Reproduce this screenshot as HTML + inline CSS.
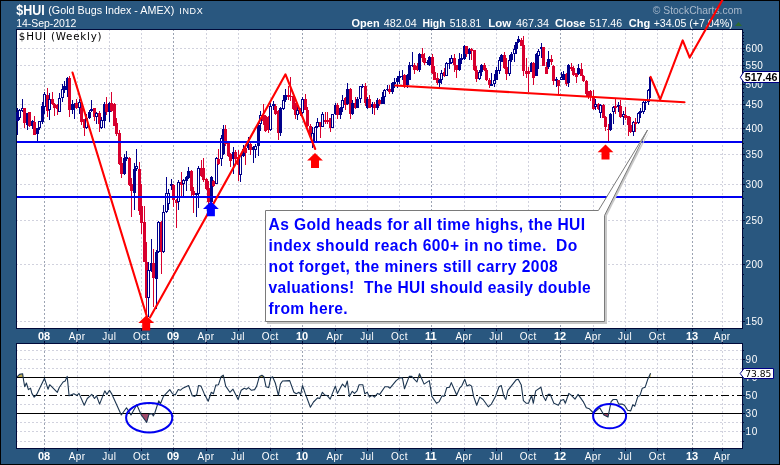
<!DOCTYPE html>
<html><head><meta charset="utf-8"><title>$HUI Gold Bugs Index</title>
<style>html,body{margin:0;padding:0;background:#29577f;}body{width:780px;height:465px;overflow:hidden}svg{display:block}</style>
</head><body>
<svg width="780" height="465" viewBox="0 0 780 465" font-family="'Liberation Sans', Arial, sans-serif">
<rect x="0" y="0" width="780" height="465" fill="#000"/>
<rect x="1" y="1" width="778" height="463" fill="#29577f"/>
<rect x="16" y="29" width="727" height="300" fill="#000a3a"/>
<rect x="17" y="30" width="725" height="298" fill="#fff"/>
<rect x="16" y="343" width="727" height="106" fill="#000a3a"/>
<rect x="17" y="344" width="725" height="104" fill="#fff"/>
<g shape-rendering="crispEdges" fill="none" stroke-width="1" stroke-dasharray="2 2" stroke-dashoffset="1">
<line x1="17" x2="742" y1="48.5" y2="48.5" stroke="#d1d2de"/>
<line x1="17" x2="742" y1="65.5" y2="65.5" stroke="#d1d2de"/>
<line x1="17" x2="742" y1="84.5" y2="84.5" stroke="#d1d2de"/>
<line x1="17" x2="742" y1="104.5" y2="104.5" stroke="#d1d2de"/>
<line x1="17" x2="742" y1="128.5" y2="128.5" stroke="#d1d2de"/>
<line x1="17" x2="742" y1="154.5" y2="154.5" stroke="#d1d2de"/>
<line x1="17" x2="742" y1="184.5" y2="184.5" stroke="#d1d2de"/>
<line x1="17" x2="742" y1="220.5" y2="220.5" stroke="#d1d2de"/>
<line x1="17" x2="742" y1="264.5" y2="264.5" stroke="#d1d2de"/>
<line x1="17" x2="742" y1="321.5" y2="321.5" stroke="#d1d2de"/>
<line x1="17" x2="742" y1="441.5" y2="441.5" stroke="#d1d2de"/>
<line x1="17" x2="742" y1="431.5" y2="431.5" stroke="#d1d2de"/>
<line x1="17" x2="742" y1="422.5" y2="422.5" stroke="#d1d2de"/>
<line x1="17" x2="742" y1="404.5" y2="404.5" stroke="#d1d2de"/>
<line x1="17" x2="742" y1="386.5" y2="386.5" stroke="#d1d2de"/>
<line x1="17" x2="742" y1="368.5" y2="368.5" stroke="#d1d2de"/>
<line x1="17" x2="742" y1="359.5" y2="359.5" stroke="#d1d2de"/>
<line x1="17" x2="742" y1="350.5" y2="350.5" stroke="#d1d2de"/>
<line x1="44.5" x2="44.5" y1="30" y2="328" stroke="#9ca4b3"/>
<line x1="44.5" x2="44.5" y1="344" y2="448" stroke="#9ca4b3"/>
<line x1="77.5" x2="77.5" y1="30" y2="328" stroke="#d1d2de"/>
<line x1="77.5" x2="77.5" y1="344" y2="448" stroke="#d1d2de"/>
<line x1="109.5" x2="109.5" y1="30" y2="328" stroke="#d1d2de"/>
<line x1="109.5" x2="109.5" y1="344" y2="448" stroke="#d1d2de"/>
<line x1="141.5" x2="141.5" y1="30" y2="328" stroke="#d1d2de"/>
<line x1="141.5" x2="141.5" y1="344" y2="448" stroke="#d1d2de"/>
<line x1="173.5" x2="173.5" y1="30" y2="328" stroke="#9ca4b3"/>
<line x1="173.5" x2="173.5" y1="344" y2="448" stroke="#9ca4b3"/>
<line x1="206.5" x2="206.5" y1="30" y2="328" stroke="#d1d2de"/>
<line x1="206.5" x2="206.5" y1="344" y2="448" stroke="#d1d2de"/>
<line x1="238.5" x2="238.5" y1="30" y2="328" stroke="#d1d2de"/>
<line x1="238.5" x2="238.5" y1="344" y2="448" stroke="#d1d2de"/>
<line x1="270.5" x2="270.5" y1="30" y2="328" stroke="#d1d2de"/>
<line x1="270.5" x2="270.5" y1="344" y2="448" stroke="#d1d2de"/>
<line x1="302.5" x2="302.5" y1="30" y2="328" stroke="#9ca4b3"/>
<line x1="302.5" x2="302.5" y1="344" y2="448" stroke="#9ca4b3"/>
<line x1="335.5" x2="335.5" y1="30" y2="328" stroke="#d1d2de"/>
<line x1="335.5" x2="335.5" y1="344" y2="448" stroke="#d1d2de"/>
<line x1="367.5" x2="367.5" y1="30" y2="328" stroke="#d1d2de"/>
<line x1="367.5" x2="367.5" y1="344" y2="448" stroke="#d1d2de"/>
<line x1="399.5" x2="399.5" y1="30" y2="328" stroke="#d1d2de"/>
<line x1="399.5" x2="399.5" y1="344" y2="448" stroke="#d1d2de"/>
<line x1="431.5" x2="431.5" y1="30" y2="328" stroke="#9ca4b3"/>
<line x1="431.5" x2="431.5" y1="344" y2="448" stroke="#9ca4b3"/>
<line x1="464.5" x2="464.5" y1="30" y2="328" stroke="#d1d2de"/>
<line x1="464.5" x2="464.5" y1="344" y2="448" stroke="#d1d2de"/>
<line x1="496.5" x2="496.5" y1="30" y2="328" stroke="#d1d2de"/>
<line x1="496.5" x2="496.5" y1="344" y2="448" stroke="#d1d2de"/>
<line x1="528.5" x2="528.5" y1="30" y2="328" stroke="#d1d2de"/>
<line x1="528.5" x2="528.5" y1="344" y2="448" stroke="#d1d2de"/>
<line x1="560.5" x2="560.5" y1="30" y2="328" stroke="#9ca4b3"/>
<line x1="560.5" x2="560.5" y1="344" y2="448" stroke="#9ca4b3"/>
<line x1="593.5" x2="593.5" y1="30" y2="328" stroke="#d1d2de"/>
<line x1="593.5" x2="593.5" y1="344" y2="448" stroke="#d1d2de"/>
<line x1="625.5" x2="625.5" y1="30" y2="328" stroke="#d1d2de"/>
<line x1="625.5" x2="625.5" y1="344" y2="448" stroke="#d1d2de"/>
<line x1="657.5" x2="657.5" y1="30" y2="328" stroke="#d1d2de"/>
<line x1="657.5" x2="657.5" y1="344" y2="448" stroke="#d1d2de"/>
<line x1="692.5" x2="692.5" y1="30" y2="328" stroke="#9ca4b3"/>
<line x1="692.5" x2="692.5" y1="344" y2="448" stroke="#9ca4b3"/>
<line x1="722.5" x2="722.5" y1="30" y2="328" stroke="#d1d2de"/>
<line x1="722.5" x2="722.5" y1="344" y2="448" stroke="#d1d2de"/>
</g>
<g shape-rendering="crispEdges" stroke="#000a3a" stroke-width="1">
<line x1="44.5" x2="44.5" y1="328" y2="331"/>
<line x1="44.5" x2="44.5" y1="448" y2="451"/>
<line x1="44.5" x2="44.5" y1="341" y2="344"/>
<line x1="77.5" x2="77.5" y1="328" y2="331"/>
<line x1="77.5" x2="77.5" y1="448" y2="451"/>
<line x1="77.5" x2="77.5" y1="341" y2="344"/>
<line x1="109.5" x2="109.5" y1="328" y2="331"/>
<line x1="109.5" x2="109.5" y1="448" y2="451"/>
<line x1="109.5" x2="109.5" y1="341" y2="344"/>
<line x1="141.5" x2="141.5" y1="328" y2="331"/>
<line x1="141.5" x2="141.5" y1="448" y2="451"/>
<line x1="141.5" x2="141.5" y1="341" y2="344"/>
<line x1="173.5" x2="173.5" y1="328" y2="331"/>
<line x1="173.5" x2="173.5" y1="448" y2="451"/>
<line x1="173.5" x2="173.5" y1="341" y2="344"/>
<line x1="206.5" x2="206.5" y1="328" y2="331"/>
<line x1="206.5" x2="206.5" y1="448" y2="451"/>
<line x1="206.5" x2="206.5" y1="341" y2="344"/>
<line x1="238.5" x2="238.5" y1="328" y2="331"/>
<line x1="238.5" x2="238.5" y1="448" y2="451"/>
<line x1="238.5" x2="238.5" y1="341" y2="344"/>
<line x1="270.5" x2="270.5" y1="328" y2="331"/>
<line x1="270.5" x2="270.5" y1="448" y2="451"/>
<line x1="270.5" x2="270.5" y1="341" y2="344"/>
<line x1="302.5" x2="302.5" y1="328" y2="331"/>
<line x1="302.5" x2="302.5" y1="448" y2="451"/>
<line x1="302.5" x2="302.5" y1="341" y2="344"/>
<line x1="335.5" x2="335.5" y1="328" y2="331"/>
<line x1="335.5" x2="335.5" y1="448" y2="451"/>
<line x1="335.5" x2="335.5" y1="341" y2="344"/>
<line x1="367.5" x2="367.5" y1="328" y2="331"/>
<line x1="367.5" x2="367.5" y1="448" y2="451"/>
<line x1="367.5" x2="367.5" y1="341" y2="344"/>
<line x1="399.5" x2="399.5" y1="328" y2="331"/>
<line x1="399.5" x2="399.5" y1="448" y2="451"/>
<line x1="399.5" x2="399.5" y1="341" y2="344"/>
<line x1="431.5" x2="431.5" y1="328" y2="331"/>
<line x1="431.5" x2="431.5" y1="448" y2="451"/>
<line x1="431.5" x2="431.5" y1="341" y2="344"/>
<line x1="464.5" x2="464.5" y1="328" y2="331"/>
<line x1="464.5" x2="464.5" y1="448" y2="451"/>
<line x1="464.5" x2="464.5" y1="341" y2="344"/>
<line x1="496.5" x2="496.5" y1="328" y2="331"/>
<line x1="496.5" x2="496.5" y1="448" y2="451"/>
<line x1="496.5" x2="496.5" y1="341" y2="344"/>
<line x1="528.5" x2="528.5" y1="328" y2="331"/>
<line x1="528.5" x2="528.5" y1="448" y2="451"/>
<line x1="528.5" x2="528.5" y1="341" y2="344"/>
<line x1="560.5" x2="560.5" y1="328" y2="331"/>
<line x1="560.5" x2="560.5" y1="448" y2="451"/>
<line x1="560.5" x2="560.5" y1="341" y2="344"/>
<line x1="593.5" x2="593.5" y1="328" y2="331"/>
<line x1="593.5" x2="593.5" y1="448" y2="451"/>
<line x1="593.5" x2="593.5" y1="341" y2="344"/>
<line x1="625.5" x2="625.5" y1="328" y2="331"/>
<line x1="625.5" x2="625.5" y1="448" y2="451"/>
<line x1="625.5" x2="625.5" y1="341" y2="344"/>
<line x1="657.5" x2="657.5" y1="328" y2="331"/>
<line x1="657.5" x2="657.5" y1="448" y2="451"/>
<line x1="657.5" x2="657.5" y1="341" y2="344"/>
<line x1="692.5" x2="692.5" y1="328" y2="331"/>
<line x1="692.5" x2="692.5" y1="448" y2="451"/>
<line x1="692.5" x2="692.5" y1="341" y2="344"/>
<line x1="722.5" x2="722.5" y1="328" y2="331"/>
<line x1="722.5" x2="722.5" y1="448" y2="451"/>
<line x1="722.5" x2="722.5" y1="341" y2="344"/>
<line x1="742" x2="745" y1="48.5" y2="48.5"/>
<line x1="742" x2="745" y1="65.5" y2="65.5"/>
<line x1="742" x2="745" y1="84.5" y2="84.5"/>
<line x1="742" x2="745" y1="104.5" y2="104.5"/>
<line x1="742" x2="745" y1="128.5" y2="128.5"/>
<line x1="742" x2="745" y1="154.5" y2="154.5"/>
<line x1="742" x2="745" y1="184.5" y2="184.5"/>
<line x1="742" x2="745" y1="220.5" y2="220.5"/>
<line x1="742" x2="745" y1="264.5" y2="264.5"/>
<line x1="742" x2="745" y1="321.5" y2="321.5"/>
<line x1="742" x2="744" y1="308.5" y2="308.5"/>
<line x1="742" x2="744" y1="296.5" y2="296.5"/>
<line x1="742" x2="744" y1="285.5" y2="285.5"/>
<line x1="742" x2="744" y1="274.5" y2="274.5"/>
<line x1="742" x2="744" y1="255.5" y2="255.5"/>
<line x1="742" x2="744" y1="245.5" y2="245.5"/>
<line x1="742" x2="744" y1="237.5" y2="237.5"/>
<line x1="742" x2="744" y1="228.5" y2="228.5"/>
<line x1="742" x2="744" y1="212.5" y2="212.5"/>
<line x1="742" x2="744" y1="205.5" y2="205.5"/>
<line x1="742" x2="744" y1="198.5" y2="198.5"/>
<line x1="742" x2="744" y1="191.5" y2="191.5"/>
<line x1="742" x2="744" y1="178.5" y2="178.5"/>
<line x1="742" x2="744" y1="172.5" y2="172.5"/>
<line x1="742" x2="744" y1="165.5" y2="165.5"/>
<line x1="742" x2="744" y1="160.5" y2="160.5"/>
<line x1="742" x2="744" y1="148.5" y2="148.5"/>
<line x1="742" x2="744" y1="143.5" y2="143.5"/>
<line x1="742" x2="744" y1="138.5" y2="138.5"/>
<line x1="742" x2="744" y1="133.5" y2="133.5"/>
<line x1="742" x2="744" y1="123.5" y2="123.5"/>
<line x1="742" x2="744" y1="118.5" y2="118.5"/>
<line x1="742" x2="744" y1="113.5" y2="113.5"/>
<line x1="742" x2="744" y1="109.5" y2="109.5"/>
<line x1="742" x2="744" y1="100.5" y2="100.5"/>
<line x1="742" x2="744" y1="96.5" y2="96.5"/>
<line x1="742" x2="744" y1="92.5" y2="92.5"/>
<line x1="742" x2="744" y1="88.5" y2="88.5"/>
<line x1="742" x2="744" y1="80.5" y2="80.5"/>
<line x1="742" x2="744" y1="76.5" y2="76.5"/>
<line x1="742" x2="744" y1="72.5" y2="72.5"/>
<line x1="742" x2="744" y1="68.5" y2="68.5"/>
<line x1="742" x2="744" y1="61.5" y2="61.5"/>
<line x1="742" x2="744" y1="58.5" y2="58.5"/>
<line x1="742" x2="744" y1="54.5" y2="54.5"/>
<line x1="742" x2="744" y1="51.5" y2="51.5"/>
<line x1="742" x2="744" y1="44.5" y2="44.5"/>
<line x1="742" x2="744" y1="41.5" y2="41.5"/>
<line x1="742" x2="744" y1="38.5" y2="38.5"/>
<line x1="742" x2="744" y1="35.5" y2="35.5"/>
<line x1="742" x2="744" y1="32.5" y2="32.5"/>
<line x1="742" x2="744" y1="441.5" y2="441.5"/>
<line x1="742" x2="744" y1="431.5" y2="431.5"/>
<line x1="742" x2="744" y1="422.5" y2="422.5"/>
<line x1="742" x2="744" y1="413.5" y2="413.5"/>
<line x1="742" x2="744" y1="404.5" y2="404.5"/>
<line x1="742" x2="744" y1="395.5" y2="395.5"/>
<line x1="742" x2="744" y1="386.5" y2="386.5"/>
<line x1="742" x2="744" y1="377.5" y2="377.5"/>
<line x1="742" x2="744" y1="368.5" y2="368.5"/>
<line x1="742" x2="744" y1="359.5" y2="359.5"/>
<line x1="742" x2="744" y1="350.5" y2="350.5"/>
<line x1="742" x2="745" y1="431.5" y2="431.5"/>
<line x1="742" x2="745" y1="413.5" y2="413.5"/>
<line x1="742" x2="745" y1="395.5" y2="395.5"/>
<line x1="742" x2="745" y1="377.5" y2="377.5"/>
<line x1="742" x2="745" y1="359.5" y2="359.5"/>
</g>
<g shape-rendering="crispEdges">
<rect x="17" y="108" width="1" height="27" fill="#00008b"/>
<rect x="16" y="112" width="3" height="9" fill="#00008b"/>
<rect x="19" y="109" width="1" height="11" fill="#00008b"/>
<rect x="18" y="110" width="3" height="8" fill="#00008b"/>
<rect x="19" y="111" width="1" height="6" fill="#fff"/>
<rect x="22" y="99" width="1" height="13" fill="#00008b"/>
<rect x="21" y="108" width="3" height="3" fill="#00008b"/>
<rect x="22" y="109" width="1" height="1" fill="#fff"/>
<rect x="24" y="108" width="1" height="20" fill="#d8002e"/>
<rect x="23" y="108" width="3" height="15" fill="#d8002e"/>
<rect x="27" y="113" width="1" height="17" fill="#00008b"/>
<rect x="26" y="113" width="3" height="12" fill="#00008b"/>
<rect x="29" y="112" width="1" height="15" fill="#d8002e"/>
<rect x="28" y="112" width="3" height="14" fill="#d8002e"/>
<rect x="32" y="120" width="1" height="9" fill="#00008b"/>
<rect x="31" y="121" width="3" height="5" fill="#00008b"/>
<rect x="34" y="116" width="1" height="19" fill="#d8002e"/>
<rect x="33" y="122" width="3" height="13" fill="#d8002e"/>
<rect x="37" y="128" width="1" height="13" fill="#00008b"/>
<rect x="36" y="128" width="3" height="6" fill="#00008b"/>
<rect x="39" y="121" width="1" height="9" fill="#00008b"/>
<rect x="38" y="121" width="3" height="7" fill="#00008b"/>
<rect x="39" y="122" width="1" height="5" fill="#fff"/>
<rect x="42" y="102" width="1" height="22" fill="#00008b"/>
<rect x="41" y="106" width="3" height="16" fill="#00008b"/>
<rect x="44" y="92" width="1" height="22" fill="#00008b"/>
<rect x="43" y="94" width="3" height="13" fill="#00008b"/>
<rect x="44" y="95" width="1" height="11" fill="#fff"/>
<rect x="47" y="88" width="1" height="29" fill="#d8002e"/>
<rect x="46" y="95" width="3" height="16" fill="#d8002e"/>
<rect x="49" y="93" width="1" height="27" fill="#00008b"/>
<rect x="48" y="99" width="3" height="11" fill="#00008b"/>
<rect x="49" y="100" width="1" height="9" fill="#fff"/>
<rect x="52" y="92" width="1" height="13" fill="#d8002e"/>
<rect x="51" y="99" width="3" height="5" fill="#d8002e"/>
<rect x="54" y="103" width="1" height="13" fill="#d8002e"/>
<rect x="53" y="104" width="3" height="4" fill="#d8002e"/>
<rect x="57" y="104" width="1" height="11" fill="#d8002e"/>
<rect x="56" y="105" width="3" height="4" fill="#d8002e"/>
<rect x="59" y="93" width="1" height="19" fill="#00008b"/>
<rect x="58" y="98" width="3" height="14" fill="#00008b"/>
<rect x="59" y="99" width="1" height="12" fill="#fff"/>
<rect x="62" y="84" width="1" height="18" fill="#00008b"/>
<rect x="61" y="89" width="3" height="9" fill="#00008b"/>
<rect x="62" y="90" width="1" height="7" fill="#fff"/>
<rect x="64" y="81" width="1" height="12" fill="#00008b"/>
<rect x="63" y="86" width="3" height="4" fill="#00008b"/>
<rect x="67" y="77" width="1" height="20" fill="#00008b"/>
<rect x="66" y="78" width="3" height="12" fill="#00008b"/>
<rect x="69" y="76" width="1" height="41" fill="#d8002e"/>
<rect x="68" y="78" width="3" height="32" fill="#d8002e"/>
<rect x="72" y="100" width="1" height="14" fill="#00008b"/>
<rect x="71" y="104" width="3" height="6" fill="#00008b"/>
<rect x="74" y="103" width="1" height="16" fill="#00008b"/>
<rect x="73" y="104" width="3" height="2" fill="#00008b"/>
<rect x="76" y="99" width="1" height="10" fill="#d8002e"/>
<rect x="75" y="103" width="3" height="5" fill="#d8002e"/>
<rect x="79" y="99" width="1" height="15" fill="#00008b"/>
<rect x="78" y="102" width="3" height="6" fill="#00008b"/>
<rect x="79" y="103" width="1" height="4" fill="#fff"/>
<rect x="81" y="101" width="1" height="24" fill="#d8002e"/>
<rect x="80" y="108" width="3" height="14" fill="#d8002e"/>
<rect x="84" y="119" width="1" height="17" fill="#d8002e"/>
<rect x="83" y="119" width="3" height="9" fill="#d8002e"/>
<rect x="86" y="114" width="1" height="15" fill="#00008b"/>
<rect x="85" y="118" width="3" height="10" fill="#00008b"/>
<rect x="86" y="119" width="1" height="8" fill="#fff"/>
<rect x="89" y="110" width="1" height="9" fill="#00008b"/>
<rect x="88" y="112" width="3" height="6" fill="#00008b"/>
<rect x="91" y="100" width="1" height="12" fill="#00008b"/>
<rect x="90" y="109" width="3" height="2" fill="#00008b"/>
<rect x="94" y="108" width="1" height="13" fill="#d8002e"/>
<rect x="93" y="108" width="3" height="9" fill="#d8002e"/>
<rect x="96" y="112" width="1" height="12" fill="#00008b"/>
<rect x="95" y="113" width="3" height="4" fill="#00008b"/>
<rect x="96" y="114" width="1" height="2" fill="#fff"/>
<rect x="99" y="111" width="1" height="21" fill="#d8002e"/>
<rect x="98" y="113" width="3" height="11" fill="#d8002e"/>
<rect x="101" y="117" width="1" height="12" fill="#00008b"/>
<rect x="100" y="120" width="3" height="8" fill="#00008b"/>
<rect x="101" y="121" width="1" height="6" fill="#fff"/>
<rect x="104" y="102" width="1" height="26" fill="#00008b"/>
<rect x="103" y="104" width="3" height="17" fill="#00008b"/>
<rect x="106" y="97" width="1" height="18" fill="#d8002e"/>
<rect x="105" y="104" width="3" height="8" fill="#d8002e"/>
<rect x="109" y="102" width="1" height="20" fill="#00008b"/>
<rect x="108" y="103" width="3" height="9" fill="#00008b"/>
<rect x="111" y="92" width="1" height="20" fill="#d8002e"/>
<rect x="110" y="103" width="3" height="8" fill="#d8002e"/>
<rect x="114" y="103" width="1" height="23" fill="#d8002e"/>
<rect x="113" y="104" width="3" height="22" fill="#d8002e"/>
<rect x="116" y="118" width="1" height="18" fill="#d8002e"/>
<rect x="115" y="123" width="3" height="11" fill="#d8002e"/>
<rect x="119" y="130" width="1" height="35" fill="#d8002e"/>
<rect x="118" y="133" width="3" height="31" fill="#d8002e"/>
<rect x="121" y="157" width="1" height="21" fill="#d8002e"/>
<rect x="120" y="163" width="3" height="11" fill="#d8002e"/>
<rect x="124" y="154" width="1" height="21" fill="#00008b"/>
<rect x="123" y="158" width="3" height="16" fill="#00008b"/>
<rect x="126" y="151" width="1" height="10" fill="#00008b"/>
<rect x="125" y="157" width="3" height="2" fill="#00008b"/>
<rect x="129" y="157" width="1" height="29" fill="#d8002e"/>
<rect x="128" y="158" width="3" height="27" fill="#d8002e"/>
<rect x="131" y="178" width="1" height="39" fill="#d8002e"/>
<rect x="130" y="184" width="3" height="7" fill="#d8002e"/>
<rect x="134" y="163" width="1" height="47" fill="#00008b"/>
<rect x="133" y="169" width="3" height="24" fill="#00008b"/>
<rect x="136" y="149" width="1" height="22" fill="#00008b"/>
<rect x="135" y="166" width="3" height="3" fill="#00008b"/>
<rect x="136" y="167" width="1" height="1" fill="#fff"/>
<rect x="139" y="162" width="1" height="53" fill="#d8002e"/>
<rect x="138" y="169" width="3" height="42" fill="#d8002e"/>
<rect x="141" y="184" width="1" height="50" fill="#d8002e"/>
<rect x="140" y="206" width="3" height="17" fill="#d8002e"/>
<rect x="144" y="206" width="1" height="56" fill="#d8002e"/>
<rect x="143" y="222" width="3" height="40" fill="#d8002e"/>
<rect x="146" y="242" width="1" height="73" fill="#d8002e"/>
<rect x="145" y="262" width="3" height="36" fill="#d8002e"/>
<rect x="148" y="262" width="1" height="55" fill="#00008b"/>
<rect x="147" y="270" width="3" height="28" fill="#00008b"/>
<rect x="148" y="271" width="1" height="26" fill="#fff"/>
<rect x="151" y="239" width="1" height="33" fill="#00008b"/>
<rect x="150" y="263" width="3" height="8" fill="#00008b"/>
<rect x="153" y="249" width="1" height="58" fill="#d8002e"/>
<rect x="152" y="263" width="3" height="15" fill="#d8002e"/>
<rect x="156" y="250" width="1" height="59" fill="#00008b"/>
<rect x="155" y="252" width="3" height="27" fill="#00008b"/>
<rect x="158" y="221" width="1" height="32" fill="#00008b"/>
<rect x="157" y="222" width="3" height="30" fill="#00008b"/>
<rect x="158" y="223" width="1" height="28" fill="#fff"/>
<rect x="161" y="221" width="1" height="53" fill="#d8002e"/>
<rect x="160" y="222" width="3" height="30" fill="#d8002e"/>
<rect x="163" y="205" width="1" height="48" fill="#00008b"/>
<rect x="162" y="212" width="3" height="40" fill="#00008b"/>
<rect x="163" y="213" width="1" height="38" fill="#fff"/>
<rect x="166" y="177" width="1" height="36" fill="#00008b"/>
<rect x="165" y="193" width="3" height="19" fill="#00008b"/>
<rect x="166" y="194" width="1" height="17" fill="#fff"/>
<rect x="168" y="189" width="1" height="21" fill="#00008b"/>
<rect x="167" y="193" width="3" height="11" fill="#00008b"/>
<rect x="168" y="194" width="1" height="9" fill="#fff"/>
<rect x="171" y="179" width="1" height="11" fill="#00008b"/>
<rect x="170" y="184" width="3" height="2" fill="#00008b"/>
<rect x="173" y="184" width="1" height="23" fill="#d8002e"/>
<rect x="172" y="185" width="3" height="15" fill="#d8002e"/>
<rect x="176" y="199" width="1" height="29" fill="#d8002e"/>
<rect x="175" y="200" width="3" height="3" fill="#d8002e"/>
<rect x="178" y="180" width="1" height="30" fill="#00008b"/>
<rect x="177" y="182" width="3" height="20" fill="#00008b"/>
<rect x="178" y="183" width="1" height="18" fill="#fff"/>
<rect x="181" y="172" width="1" height="24" fill="#d8002e"/>
<rect x="180" y="182" width="3" height="3" fill="#d8002e"/>
<rect x="183" y="179" width="1" height="17" fill="#00008b"/>
<rect x="182" y="180" width="3" height="4" fill="#00008b"/>
<rect x="183" y="181" width="1" height="2" fill="#fff"/>
<rect x="186" y="176" width="1" height="15" fill="#00008b"/>
<rect x="185" y="177" width="3" height="4" fill="#00008b"/>
<rect x="188" y="167" width="1" height="12" fill="#00008b"/>
<rect x="187" y="171" width="3" height="7" fill="#00008b"/>
<rect x="191" y="170" width="1" height="28" fill="#d8002e"/>
<rect x="190" y="171" width="3" height="20" fill="#d8002e"/>
<rect x="193" y="187" width="1" height="26" fill="#d8002e"/>
<rect x="192" y="191" width="3" height="4" fill="#d8002e"/>
<rect x="196" y="193" width="1" height="24" fill="#00008b"/>
<rect x="195" y="193" width="3" height="2" fill="#00008b"/>
<rect x="198" y="166" width="1" height="42" fill="#00008b"/>
<rect x="197" y="168" width="3" height="26" fill="#00008b"/>
<rect x="198" y="169" width="1" height="24" fill="#fff"/>
<rect x="201" y="160" width="1" height="17" fill="#d8002e"/>
<rect x="200" y="168" width="3" height="8" fill="#d8002e"/>
<rect x="203" y="158" width="1" height="24" fill="#d8002e"/>
<rect x="202" y="168" width="3" height="12" fill="#d8002e"/>
<rect x="206" y="178" width="1" height="12" fill="#d8002e"/>
<rect x="205" y="179" width="3" height="10" fill="#d8002e"/>
<rect x="208" y="181" width="1" height="24" fill="#d8002e"/>
<rect x="207" y="188" width="3" height="14" fill="#d8002e"/>
<rect x="211" y="176" width="1" height="27" fill="#00008b"/>
<rect x="210" y="177" width="3" height="25" fill="#00008b"/>
<rect x="213" y="180" width="1" height="7" fill="#d8002e"/>
<rect x="212" y="181" width="3" height="5" fill="#d8002e"/>
<rect x="216" y="157" width="1" height="27" fill="#00008b"/>
<rect x="215" y="158" width="3" height="26" fill="#00008b"/>
<rect x="216" y="159" width="1" height="24" fill="#fff"/>
<rect x="218" y="149" width="1" height="16" fill="#d8002e"/>
<rect x="217" y="159" width="3" height="5" fill="#d8002e"/>
<rect x="221" y="135" width="1" height="31" fill="#00008b"/>
<rect x="220" y="138" width="3" height="21" fill="#00008b"/>
<rect x="221" y="139" width="1" height="19" fill="#fff"/>
<rect x="223" y="125" width="1" height="30" fill="#00008b"/>
<rect x="222" y="129" width="3" height="25" fill="#00008b"/>
<rect x="225" y="125" width="1" height="21" fill="#d8002e"/>
<rect x="224" y="129" width="3" height="15" fill="#d8002e"/>
<rect x="228" y="143" width="1" height="14" fill="#d8002e"/>
<rect x="227" y="143" width="3" height="13" fill="#d8002e"/>
<rect x="230" y="153" width="1" height="14" fill="#d8002e"/>
<rect x="229" y="154" width="3" height="7" fill="#d8002e"/>
<rect x="233" y="147" width="1" height="27" fill="#00008b"/>
<rect x="232" y="152" width="3" height="7" fill="#00008b"/>
<rect x="235" y="150" width="1" height="13" fill="#d8002e"/>
<rect x="234" y="152" width="3" height="7" fill="#d8002e"/>
<rect x="238" y="150" width="1" height="31" fill="#d8002e"/>
<rect x="237" y="157" width="3" height="8" fill="#d8002e"/>
<rect x="240" y="154" width="1" height="28" fill="#00008b"/>
<rect x="239" y="155" width="3" height="20" fill="#00008b"/>
<rect x="240" y="156" width="1" height="18" fill="#fff"/>
<rect x="243" y="145" width="1" height="12" fill="#00008b"/>
<rect x="242" y="149" width="3" height="7" fill="#00008b"/>
<rect x="245" y="145" width="1" height="20" fill="#d8002e"/>
<rect x="244" y="148" width="3" height="5" fill="#d8002e"/>
<rect x="248" y="137" width="1" height="13" fill="#00008b"/>
<rect x="247" y="144" width="3" height="4" fill="#00008b"/>
<rect x="250" y="143" width="1" height="12" fill="#d8002e"/>
<rect x="249" y="144" width="3" height="6" fill="#d8002e"/>
<rect x="253" y="146" width="1" height="17" fill="#00008b"/>
<rect x="252" y="147" width="3" height="3" fill="#00008b"/>
<rect x="255" y="144" width="1" height="14" fill="#00008b"/>
<rect x="254" y="146" width="3" height="4" fill="#00008b"/>
<rect x="255" y="147" width="1" height="2" fill="#fff"/>
<rect x="258" y="124" width="1" height="32" fill="#00008b"/>
<rect x="257" y="125" width="3" height="21" fill="#00008b"/>
<rect x="260" y="111" width="1" height="20" fill="#00008b"/>
<rect x="259" y="115" width="3" height="9" fill="#00008b"/>
<rect x="260" y="116" width="1" height="7" fill="#fff"/>
<rect x="263" y="104" width="1" height="21" fill="#d8002e"/>
<rect x="262" y="115" width="3" height="6" fill="#d8002e"/>
<rect x="265" y="115" width="1" height="17" fill="#d8002e"/>
<rect x="264" y="116" width="3" height="15" fill="#d8002e"/>
<rect x="268" y="116" width="1" height="17" fill="#d8002e"/>
<rect x="267" y="117" width="3" height="13" fill="#d8002e"/>
<rect x="270" y="103" width="1" height="28" fill="#00008b"/>
<rect x="269" y="106" width="3" height="24" fill="#00008b"/>
<rect x="270" y="107" width="1" height="22" fill="#fff"/>
<rect x="273" y="101" width="1" height="9" fill="#00008b"/>
<rect x="272" y="104" width="3" height="2" fill="#00008b"/>
<rect x="275" y="104" width="1" height="11" fill="#d8002e"/>
<rect x="274" y="106" width="3" height="8" fill="#d8002e"/>
<rect x="278" y="110" width="1" height="30" fill="#d8002e"/>
<rect x="277" y="111" width="3" height="22" fill="#d8002e"/>
<rect x="280" y="107" width="1" height="29" fill="#00008b"/>
<rect x="279" y="108" width="3" height="25" fill="#00008b"/>
<rect x="283" y="95" width="1" height="15" fill="#00008b"/>
<rect x="282" y="100" width="3" height="9" fill="#00008b"/>
<rect x="283" y="101" width="1" height="7" fill="#fff"/>
<rect x="285" y="89" width="1" height="13" fill="#00008b"/>
<rect x="284" y="95" width="3" height="5" fill="#00008b"/>
<rect x="288" y="86" width="1" height="14" fill="#d8002e"/>
<rect x="287" y="95" width="3" height="2" fill="#d8002e"/>
<rect x="290" y="77" width="1" height="24" fill="#d8002e"/>
<rect x="289" y="96" width="3" height="1" fill="#d8002e"/>
<rect x="293" y="95" width="1" height="15" fill="#d8002e"/>
<rect x="292" y="96" width="3" height="13" fill="#d8002e"/>
<rect x="295" y="103" width="1" height="16" fill="#d8002e"/>
<rect x="294" y="104" width="3" height="11" fill="#d8002e"/>
<rect x="297" y="106" width="1" height="14" fill="#00008b"/>
<rect x="296" y="110" width="3" height="5" fill="#00008b"/>
<rect x="297" y="111" width="1" height="3" fill="#fff"/>
<rect x="300" y="108" width="1" height="8" fill="#d8002e"/>
<rect x="299" y="110" width="3" height="4" fill="#d8002e"/>
<rect x="302" y="97" width="1" height="17" fill="#00008b"/>
<rect x="301" y="99" width="3" height="14" fill="#00008b"/>
<rect x="302" y="100" width="1" height="12" fill="#fff"/>
<rect x="305" y="94" width="1" height="16" fill="#d8002e"/>
<rect x="304" y="99" width="3" height="11" fill="#d8002e"/>
<rect x="307" y="107" width="1" height="20" fill="#d8002e"/>
<rect x="306" y="110" width="3" height="16" fill="#d8002e"/>
<rect x="310" y="124" width="1" height="11" fill="#d8002e"/>
<rect x="309" y="126" width="3" height="8" fill="#d8002e"/>
<rect x="312" y="127" width="1" height="21" fill="#00008b"/>
<rect x="311" y="133" width="3" height="9" fill="#00008b"/>
<rect x="312" y="134" width="1" height="7" fill="#fff"/>
<rect x="315" y="126" width="1" height="16" fill="#00008b"/>
<rect x="314" y="127" width="3" height="15" fill="#00008b"/>
<rect x="315" y="128" width="1" height="13" fill="#fff"/>
<rect x="317" y="118" width="1" height="10" fill="#00008b"/>
<rect x="316" y="122" width="3" height="5" fill="#00008b"/>
<rect x="317" y="123" width="1" height="3" fill="#fff"/>
<rect x="320" y="122" width="1" height="16" fill="#d8002e"/>
<rect x="319" y="122" width="3" height="5" fill="#d8002e"/>
<rect x="322" y="112" width="1" height="15" fill="#00008b"/>
<rect x="321" y="114" width="3" height="13" fill="#00008b"/>
<rect x="322" y="115" width="1" height="11" fill="#fff"/>
<rect x="325" y="112" width="1" height="12" fill="#d8002e"/>
<rect x="324" y="120" width="3" height="2" fill="#d8002e"/>
<rect x="327" y="112" width="1" height="12" fill="#d8002e"/>
<rect x="326" y="120" width="3" height="2" fill="#d8002e"/>
<rect x="330" y="118" width="1" height="14" fill="#d8002e"/>
<rect x="329" y="118" width="3" height="10" fill="#d8002e"/>
<rect x="332" y="114" width="1" height="14" fill="#00008b"/>
<rect x="331" y="114" width="3" height="14" fill="#00008b"/>
<rect x="332" y="115" width="1" height="12" fill="#fff"/>
<rect x="335" y="103" width="1" height="12" fill="#00008b"/>
<rect x="334" y="105" width="3" height="9" fill="#00008b"/>
<rect x="337" y="103" width="1" height="16" fill="#d8002e"/>
<rect x="336" y="105" width="3" height="10" fill="#d8002e"/>
<rect x="340" y="107" width="1" height="12" fill="#00008b"/>
<rect x="339" y="108" width="3" height="7" fill="#00008b"/>
<rect x="342" y="95" width="1" height="17" fill="#00008b"/>
<rect x="341" y="100" width="3" height="8" fill="#00008b"/>
<rect x="342" y="101" width="1" height="6" fill="#fff"/>
<rect x="345" y="97" width="1" height="13" fill="#d8002e"/>
<rect x="344" y="98" width="3" height="7" fill="#d8002e"/>
<rect x="347" y="83" width="1" height="22" fill="#00008b"/>
<rect x="346" y="89" width="3" height="15" fill="#00008b"/>
<rect x="350" y="88" width="1" height="31" fill="#d8002e"/>
<rect x="349" y="89" width="3" height="25" fill="#d8002e"/>
<rect x="352" y="100" width="1" height="15" fill="#00008b"/>
<rect x="351" y="103" width="3" height="11" fill="#00008b"/>
<rect x="355" y="97" width="1" height="12" fill="#d8002e"/>
<rect x="354" y="103" width="3" height="5" fill="#d8002e"/>
<rect x="357" y="97" width="1" height="11" fill="#00008b"/>
<rect x="356" y="99" width="3" height="9" fill="#00008b"/>
<rect x="360" y="86" width="1" height="17" fill="#00008b"/>
<rect x="359" y="86" width="3" height="13" fill="#00008b"/>
<rect x="360" y="87" width="1" height="11" fill="#fff"/>
<rect x="362" y="84" width="1" height="4" fill="#00008b"/>
<rect x="361" y="86" width="3" height="1" fill="#00008b"/>
<rect x="365" y="83" width="1" height="23" fill="#d8002e"/>
<rect x="364" y="86" width="3" height="17" fill="#d8002e"/>
<rect x="367" y="97" width="1" height="12" fill="#00008b"/>
<rect x="366" y="99" width="3" height="9" fill="#00008b"/>
<rect x="369" y="95" width="1" height="13" fill="#d8002e"/>
<rect x="368" y="99" width="3" height="9" fill="#d8002e"/>
<rect x="372" y="102" width="1" height="12" fill="#00008b"/>
<rect x="371" y="104" width="3" height="3" fill="#00008b"/>
<rect x="374" y="102" width="1" height="13" fill="#d8002e"/>
<rect x="373" y="104" width="3" height="4" fill="#d8002e"/>
<rect x="377" y="98" width="1" height="12" fill="#00008b"/>
<rect x="376" y="100" width="3" height="8" fill="#00008b"/>
<rect x="379" y="99" width="1" height="7" fill="#d8002e"/>
<rect x="378" y="100" width="3" height="4" fill="#d8002e"/>
<rect x="382" y="92" width="1" height="12" fill="#00008b"/>
<rect x="381" y="97" width="3" height="7" fill="#00008b"/>
<rect x="384" y="89" width="1" height="15" fill="#00008b"/>
<rect x="383" y="90" width="3" height="7" fill="#00008b"/>
<rect x="384" y="91" width="1" height="5" fill="#fff"/>
<rect x="387" y="85" width="1" height="6" fill="#00008b"/>
<rect x="386" y="89" width="3" height="1" fill="#00008b"/>
<rect x="389" y="85" width="1" height="9" fill="#d8002e"/>
<rect x="388" y="89" width="3" height="3" fill="#d8002e"/>
<rect x="392" y="82" width="1" height="12" fill="#00008b"/>
<rect x="391" y="83" width="3" height="9" fill="#00008b"/>
<rect x="394" y="78" width="1" height="10" fill="#00008b"/>
<rect x="393" y="82" width="3" height="2" fill="#00008b"/>
<rect x="397" y="76" width="1" height="12" fill="#00008b"/>
<rect x="396" y="78" width="3" height="4" fill="#00008b"/>
<rect x="399" y="71" width="1" height="13" fill="#00008b"/>
<rect x="398" y="76" width="3" height="2" fill="#00008b"/>
<rect x="402" y="70" width="1" height="10" fill="#00008b"/>
<rect x="401" y="76" width="3" height="1" fill="#00008b"/>
<rect x="404" y="74" width="1" height="14" fill="#d8002e"/>
<rect x="403" y="75" width="3" height="10" fill="#d8002e"/>
<rect x="407" y="74" width="1" height="14" fill="#00008b"/>
<rect x="406" y="75" width="3" height="10" fill="#00008b"/>
<rect x="409" y="62" width="1" height="18" fill="#00008b"/>
<rect x="408" y="65" width="3" height="15" fill="#00008b"/>
<rect x="412" y="52" width="1" height="15" fill="#00008b"/>
<rect x="411" y="65" width="3" height="1" fill="#00008b"/>
<rect x="414" y="63" width="1" height="11" fill="#d8002e"/>
<rect x="413" y="65" width="3" height="5" fill="#d8002e"/>
<rect x="417" y="63" width="1" height="8" fill="#d8002e"/>
<rect x="416" y="66" width="3" height="4" fill="#d8002e"/>
<rect x="419" y="53" width="1" height="19" fill="#00008b"/>
<rect x="418" y="54" width="3" height="16" fill="#00008b"/>
<rect x="422" y="48" width="1" height="14" fill="#d8002e"/>
<rect x="421" y="54" width="3" height="4" fill="#d8002e"/>
<rect x="424" y="53" width="1" height="12" fill="#d8002e"/>
<rect x="423" y="58" width="3" height="5" fill="#d8002e"/>
<rect x="427" y="60" width="1" height="5" fill="#00008b"/>
<rect x="426" y="62" width="3" height="1" fill="#00008b"/>
<rect x="429" y="56" width="1" height="10" fill="#00008b"/>
<rect x="428" y="57" width="3" height="8" fill="#00008b"/>
<rect x="432" y="54" width="1" height="20" fill="#d8002e"/>
<rect x="431" y="57" width="3" height="16" fill="#d8002e"/>
<rect x="434" y="66" width="1" height="14" fill="#d8002e"/>
<rect x="433" y="72" width="3" height="8" fill="#d8002e"/>
<rect x="437" y="73" width="1" height="12" fill="#d8002e"/>
<rect x="436" y="78" width="3" height="5" fill="#d8002e"/>
<rect x="439" y="79" width="1" height="8" fill="#00008b"/>
<rect x="438" y="80" width="3" height="3" fill="#00008b"/>
<rect x="441" y="70" width="1" height="14" fill="#00008b"/>
<rect x="440" y="73" width="3" height="7" fill="#00008b"/>
<rect x="441" y="74" width="1" height="5" fill="#fff"/>
<rect x="444" y="68" width="1" height="9" fill="#d8002e"/>
<rect x="443" y="72" width="3" height="4" fill="#d8002e"/>
<rect x="446" y="62" width="1" height="14" fill="#00008b"/>
<rect x="445" y="63" width="3" height="13" fill="#00008b"/>
<rect x="446" y="64" width="1" height="11" fill="#fff"/>
<rect x="449" y="58" width="1" height="11" fill="#00008b"/>
<rect x="448" y="63" width="3" height="1" fill="#00008b"/>
<rect x="451" y="55" width="1" height="9" fill="#00008b"/>
<rect x="450" y="58" width="3" height="5" fill="#00008b"/>
<rect x="451" y="59" width="1" height="3" fill="#fff"/>
<rect x="454" y="54" width="1" height="18" fill="#d8002e"/>
<rect x="453" y="58" width="3" height="7" fill="#d8002e"/>
<rect x="456" y="65" width="1" height="13" fill="#d8002e"/>
<rect x="455" y="65" width="3" height="5" fill="#d8002e"/>
<rect x="459" y="53" width="1" height="18" fill="#00008b"/>
<rect x="458" y="59" width="3" height="11" fill="#00008b"/>
<rect x="461" y="54" width="1" height="10" fill="#00008b"/>
<rect x="460" y="58" width="3" height="2" fill="#00008b"/>
<rect x="464" y="45" width="1" height="15" fill="#00008b"/>
<rect x="463" y="46" width="3" height="13" fill="#00008b"/>
<rect x="466" y="46" width="1" height="11" fill="#d8002e"/>
<rect x="465" y="46" width="3" height="8" fill="#d8002e"/>
<rect x="469" y="48" width="1" height="12" fill="#00008b"/>
<rect x="468" y="49" width="3" height="5" fill="#00008b"/>
<rect x="471" y="48" width="1" height="12" fill="#d8002e"/>
<rect x="470" y="49" width="3" height="2" fill="#d8002e"/>
<rect x="474" y="50" width="1" height="21" fill="#d8002e"/>
<rect x="473" y="50" width="3" height="20" fill="#d8002e"/>
<rect x="476" y="66" width="1" height="16" fill="#d8002e"/>
<rect x="475" y="70" width="3" height="9" fill="#d8002e"/>
<rect x="479" y="70" width="1" height="10" fill="#00008b"/>
<rect x="478" y="72" width="3" height="7" fill="#00008b"/>
<rect x="479" y="73" width="1" height="5" fill="#fff"/>
<rect x="481" y="64" width="1" height="12" fill="#00008b"/>
<rect x="480" y="65" width="3" height="7" fill="#00008b"/>
<rect x="484" y="63" width="1" height="8" fill="#d8002e"/>
<rect x="483" y="65" width="3" height="5" fill="#d8002e"/>
<rect x="486" y="68" width="1" height="13" fill="#d8002e"/>
<rect x="485" y="70" width="3" height="10" fill="#d8002e"/>
<rect x="489" y="78" width="1" height="10" fill="#d8002e"/>
<rect x="488" y="80" width="3" height="5" fill="#d8002e"/>
<rect x="491" y="73" width="1" height="13" fill="#00008b"/>
<rect x="490" y="84" width="3" height="2" fill="#00008b"/>
<rect x="494" y="74" width="1" height="13" fill="#00008b"/>
<rect x="493" y="80" width="3" height="4" fill="#00008b"/>
<rect x="494" y="81" width="1" height="2" fill="#fff"/>
<rect x="496" y="67" width="1" height="13" fill="#00008b"/>
<rect x="495" y="70" width="3" height="10" fill="#00008b"/>
<rect x="499" y="57" width="1" height="17" fill="#00008b"/>
<rect x="498" y="60" width="3" height="11" fill="#00008b"/>
<rect x="499" y="61" width="1" height="9" fill="#fff"/>
<rect x="501" y="54" width="1" height="8" fill="#00008b"/>
<rect x="500" y="55" width="3" height="7" fill="#00008b"/>
<rect x="504" y="52" width="1" height="17" fill="#d8002e"/>
<rect x="503" y="55" width="3" height="13" fill="#d8002e"/>
<rect x="506" y="58" width="1" height="22" fill="#d8002e"/>
<rect x="505" y="67" width="3" height="7" fill="#d8002e"/>
<rect x="509" y="55" width="1" height="21" fill="#00008b"/>
<rect x="508" y="60" width="3" height="14" fill="#00008b"/>
<rect x="509" y="61" width="1" height="12" fill="#fff"/>
<rect x="511" y="52" width="1" height="10" fill="#00008b"/>
<rect x="510" y="54" width="3" height="6" fill="#00008b"/>
<rect x="514" y="45" width="1" height="17" fill="#00008b"/>
<rect x="513" y="49" width="3" height="5" fill="#00008b"/>
<rect x="514" y="50" width="1" height="3" fill="#fff"/>
<rect x="516" y="42" width="1" height="12" fill="#00008b"/>
<rect x="515" y="42" width="3" height="7" fill="#00008b"/>
<rect x="518" y="36" width="1" height="7" fill="#00008b"/>
<rect x="517" y="39" width="3" height="3" fill="#00008b"/>
<rect x="521" y="38" width="1" height="8" fill="#d8002e"/>
<rect x="520" y="40" width="3" height="6" fill="#d8002e"/>
<rect x="523" y="36" width="1" height="40" fill="#d8002e"/>
<rect x="522" y="45" width="3" height="26" fill="#d8002e"/>
<rect x="526" y="58" width="1" height="20" fill="#d8002e"/>
<rect x="525" y="71" width="3" height="3" fill="#d8002e"/>
<rect x="528" y="67" width="1" height="25" fill="#d8002e"/>
<rect x="527" y="71" width="3" height="3" fill="#d8002e"/>
<rect x="531" y="62" width="1" height="10" fill="#00008b"/>
<rect x="530" y="63" width="3" height="9" fill="#00008b"/>
<rect x="533" y="62" width="1" height="23" fill="#d8002e"/>
<rect x="532" y="63" width="3" height="15" fill="#d8002e"/>
<rect x="536" y="53" width="1" height="23" fill="#00008b"/>
<rect x="535" y="54" width="3" height="22" fill="#00008b"/>
<rect x="538" y="49" width="1" height="20" fill="#00008b"/>
<rect x="537" y="51" width="3" height="5" fill="#00008b"/>
<rect x="538" y="52" width="1" height="3" fill="#fff"/>
<rect x="541" y="43" width="1" height="15" fill="#00008b"/>
<rect x="540" y="47" width="3" height="2" fill="#00008b"/>
<rect x="543" y="47" width="1" height="19" fill="#d8002e"/>
<rect x="542" y="47" width="3" height="19" fill="#d8002e"/>
<rect x="546" y="62" width="1" height="12" fill="#d8002e"/>
<rect x="545" y="67" width="3" height="7" fill="#d8002e"/>
<rect x="548" y="51" width="1" height="18" fill="#00008b"/>
<rect x="547" y="59" width="3" height="8" fill="#00008b"/>
<rect x="551" y="55" width="1" height="10" fill="#d8002e"/>
<rect x="550" y="59" width="3" height="3" fill="#d8002e"/>
<rect x="553" y="65" width="1" height="20" fill="#d8002e"/>
<rect x="552" y="66" width="3" height="15" fill="#d8002e"/>
<rect x="556" y="77" width="1" height="10" fill="#00008b"/>
<rect x="555" y="79" width="3" height="2" fill="#00008b"/>
<rect x="558" y="80" width="1" height="14" fill="#d8002e"/>
<rect x="557" y="80" width="3" height="6" fill="#d8002e"/>
<rect x="561" y="72" width="1" height="8" fill="#00008b"/>
<rect x="560" y="77" width="3" height="3" fill="#00008b"/>
<rect x="561" y="78" width="1" height="1" fill="#fff"/>
<rect x="563" y="71" width="1" height="9" fill="#00008b"/>
<rect x="562" y="74" width="3" height="6" fill="#00008b"/>
<rect x="566" y="73" width="1" height="13" fill="#d8002e"/>
<rect x="565" y="74" width="3" height="10" fill="#d8002e"/>
<rect x="568" y="64" width="1" height="23" fill="#00008b"/>
<rect x="567" y="65" width="3" height="18" fill="#00008b"/>
<rect x="571" y="63" width="1" height="8" fill="#d8002e"/>
<rect x="570" y="67" width="3" height="2" fill="#d8002e"/>
<rect x="573" y="66" width="1" height="10" fill="#d8002e"/>
<rect x="572" y="68" width="3" height="7" fill="#d8002e"/>
<rect x="576" y="73" width="1" height="10" fill="#d8002e"/>
<rect x="575" y="73" width="3" height="4" fill="#d8002e"/>
<rect x="578" y="64" width="1" height="11" fill="#00008b"/>
<rect x="577" y="68" width="3" height="6" fill="#00008b"/>
<rect x="581" y="63" width="1" height="13" fill="#d8002e"/>
<rect x="580" y="69" width="3" height="7" fill="#d8002e"/>
<rect x="583" y="75" width="1" height="7" fill="#d8002e"/>
<rect x="582" y="76" width="3" height="5" fill="#d8002e"/>
<rect x="586" y="80" width="1" height="16" fill="#d8002e"/>
<rect x="585" y="81" width="3" height="13" fill="#d8002e"/>
<rect x="588" y="91" width="1" height="8" fill="#d8002e"/>
<rect x="587" y="92" width="3" height="4" fill="#d8002e"/>
<rect x="590" y="90" width="1" height="11" fill="#d8002e"/>
<rect x="589" y="91" width="3" height="6" fill="#d8002e"/>
<rect x="593" y="90" width="1" height="20" fill="#d8002e"/>
<rect x="592" y="97" width="3" height="12" fill="#d8002e"/>
<rect x="595" y="99" width="1" height="11" fill="#00008b"/>
<rect x="594" y="104" width="3" height="3" fill="#00008b"/>
<rect x="595" y="105" width="1" height="1" fill="#fff"/>
<rect x="598" y="103" width="1" height="7" fill="#d8002e"/>
<rect x="597" y="104" width="3" height="5" fill="#d8002e"/>
<rect x="600" y="104" width="1" height="14" fill="#00008b"/>
<rect x="599" y="105" width="3" height="8" fill="#00008b"/>
<rect x="600" y="106" width="1" height="6" fill="#fff"/>
<rect x="603" y="104" width="1" height="14" fill="#d8002e"/>
<rect x="602" y="105" width="3" height="13" fill="#d8002e"/>
<rect x="605" y="116" width="1" height="15" fill="#d8002e"/>
<rect x="604" y="117" width="3" height="10" fill="#d8002e"/>
<rect x="608" y="124" width="1" height="17" fill="#d8002e"/>
<rect x="607" y="129" width="3" height="1" fill="#d8002e"/>
<rect x="610" y="113" width="1" height="18" fill="#00008b"/>
<rect x="609" y="114" width="3" height="16" fill="#00008b"/>
<rect x="613" y="106" width="1" height="18" fill="#00008b"/>
<rect x="612" y="107" width="3" height="5" fill="#00008b"/>
<rect x="613" y="108" width="1" height="3" fill="#fff"/>
<rect x="615" y="99" width="1" height="15" fill="#d8002e"/>
<rect x="614" y="106" width="3" height="2" fill="#d8002e"/>
<rect x="618" y="102" width="1" height="10" fill="#00008b"/>
<rect x="617" y="105" width="3" height="2" fill="#00008b"/>
<rect x="620" y="100" width="1" height="18" fill="#d8002e"/>
<rect x="619" y="106" width="3" height="11" fill="#d8002e"/>
<rect x="623" y="111" width="1" height="14" fill="#00008b"/>
<rect x="622" y="114" width="3" height="3" fill="#00008b"/>
<rect x="623" y="115" width="1" height="1" fill="#fff"/>
<rect x="625" y="107" width="1" height="13" fill="#d8002e"/>
<rect x="624" y="115" width="3" height="3" fill="#d8002e"/>
<rect x="628" y="116" width="1" height="20" fill="#d8002e"/>
<rect x="627" y="116" width="3" height="9" fill="#d8002e"/>
<rect x="630" y="117" width="1" height="16" fill="#d8002e"/>
<rect x="629" y="125" width="3" height="7" fill="#d8002e"/>
<rect x="633" y="121" width="1" height="15" fill="#00008b"/>
<rect x="632" y="122" width="3" height="10" fill="#00008b"/>
<rect x="633" y="123" width="1" height="8" fill="#fff"/>
<rect x="635" y="118" width="1" height="14" fill="#d8002e"/>
<rect x="634" y="122" width="3" height="2" fill="#d8002e"/>
<rect x="638" y="112" width="1" height="12" fill="#00008b"/>
<rect x="637" y="113" width="3" height="10" fill="#00008b"/>
<rect x="638" y="114" width="1" height="8" fill="#fff"/>
<rect x="640" y="108" width="1" height="10" fill="#00008b"/>
<rect x="639" y="111" width="3" height="2" fill="#00008b"/>
<rect x="643" y="101" width="1" height="13" fill="#00008b"/>
<rect x="642" y="102" width="3" height="10" fill="#00008b"/>
<rect x="643" y="103" width="1" height="8" fill="#fff"/>
<rect x="645" y="101" width="1" height="9" fill="#00008b"/>
<rect x="644" y="102" width="3" height="1" fill="#00008b"/>
<rect x="648" y="89" width="1" height="16" fill="#00008b"/>
<rect x="647" y="90" width="3" height="12" fill="#00008b"/>
<rect x="648" y="91" width="1" height="10" fill="#fff"/>
<rect x="650" y="77" width="1" height="21" fill="#00008b"/>
<rect x="649" y="77" width="2" height="14" fill="#00008b"/>
</g>
<rect x="17" y="141" width="725" height="2" fill="#0000f0"/>
<rect x="17" y="196" width="725" height="2" fill="#0000f0"/>
<polygon points="17.1,377.5 17.1,376.8 19.5,374.4 22.6,373.7 23.2,377.5" fill="#bfab50"/>
<polygon points="66.7,377.5 67.2,376.4 67.3,377.5" fill="#bfab50"/>
<polygon points="220.8,377.5 221.0,376.8 223.3,375.2 223.8,377.5" fill="#bfab50"/>
<polygon points="259.1,377.5 259.4,376.4 261.9,375.2 263.9,376.8 264.0,377.5" fill="#bfab50"/>
<polygon points="271.4,377.5 272.6,376.8 272.9,377.5" fill="#bfab50"/>
<polygon points="408.8,377.5 409.2,376.4 411.7,376.4 412.7,377.5" fill="#bfab50"/>
<polygon points="418.3,377.5 419.5,373.7 421.2,377.5" fill="#bfab50"/>
<polygon points="648.6,377.5 650.6,373.3 650.6,377.5" fill="#bfab50"/>
<polygon points="120.6,413.5 121.3,415.0 122.4,413.5" fill="#a04a6a"/>
<polygon points="130.1,413.5 131.0,415.0 131.8,413.5" fill="#a04a6a"/>
<polygon points="140.6,413.5 141.3,415.0 146.7,422.3 149.0,414.2 152.1,413.6 153.3,415.9 154.5,413.5" fill="#a04a6a"/>
<polygon points="603.0,413.5 603.9,415.0 608.0,417.1 608.7,413.5" fill="#a04a6a"/>
<g shape-rendering="crispEdges" stroke="#000" stroke-width="1">
<line x1="17" x2="742" y1="377.5" y2="377.5"/>
<line x1="17" x2="742" y1="413.5" y2="413.5"/>
<line x1="17" x2="742" y1="395.5" y2="395.5" stroke-dasharray="8 3 2 3"/>
</g>
<polyline fill="none" stroke="#1c3550" stroke-width="1.1" stroke-linejoin="round" points="17.1,376.8 19.5,374.4 22.6,373.7 23.7,381.0 24.7,386.7 26.4,383.0 28.4,389.6 30.5,388.2 31.9,393.4 34.2,397.1 36.7,394.4 44.5,378.3 48.0,389.2 49.7,384.7 57.3,392.3 59.4,387.2 63.1,382.0 65.2,381.0 67.2,376.4 69.1,395.8 73.8,393.8 76.9,395.4 79.0,393.4 84.2,405.3 87.3,398.5 91.8,394.4 94.5,398.5 96.5,395.8 99.6,404.1 104.8,390.9 106.9,394.4 109.5,390.3 112.0,394.4 121.3,415.0 126.5,407.8 131.0,415.0 136.8,404.7 141.3,415.0 146.7,422.3 149.0,414.2 152.1,413.6 153.3,415.9 154.8,413.0 158.7,400.8 160.5,403.7 163.4,396.4 169.8,389.6 172.5,393.8 175.2,395.0 178.3,389.6 180.3,390.3 182.8,388.2 188.6,385.5 192.3,395.8 194.8,396.4 196.8,394.4 198.5,385.5 201.0,386.1 204.1,393.4 208.2,401.2 211.3,392.3 213.4,393.8 215.8,385.1 218.5,384.7 221.0,376.8 223.3,375.2 225.7,386.1 229.9,392.3 233.0,389.2 238.1,399.5 241.2,390.3 244.3,388.2 246.4,389.2 248.4,387.6 251.5,390.3 254.6,389.6 256.7,386.1 259.4,376.4 261.9,375.2 263.9,376.8 266.0,386.7 268.7,387.6 270.7,377.9 272.6,376.8 275.3,383.0 278.4,395.4 280.4,384.1 282.5,381.0 289.7,380.6 293.9,392.3 296.3,393.8 299.0,392.3 300.7,394.4 302.5,385.5 305.2,393.4 310.4,407.2 313.5,402.0 317.6,397.9 319.7,398.5 322.4,392.3 324.8,395.0 327.5,395.8 330.2,399.1 335.3,386.1 337.4,393.4 342.5,384.1 345.2,387.2 347.3,381.0 349.4,396.4 352.3,391.3 354.5,393.4 357.0,390.9 359.1,384.7 362.8,384.7 364.8,393.8 367.3,392.3 369.4,397.1 372.1,395.4 374.5,397.1 377.6,393.4 379.7,394.4 384.9,386.7 388.0,386.7 390.0,388.2 396.2,380.6 399.7,377.9 402.4,377.9 404.5,388.8 409.2,376.4 411.7,376.4 416.9,382.0 419.5,373.7 424.1,384.1 429.3,380.6 431.9,396.4 436.5,403.3 439.2,401.6 442.1,395.8 444.1,396.4 446.8,387.6 449.5,387.2 451.3,382.6 456.7,395.0 459.6,388.2 461.7,386.1 464.8,379.3 467.0,386.1 469.5,384.7 471.6,386.1 473.6,396.4 476.7,405.3 479.8,397.1 483.1,399.5 488.3,406.8 491.4,404.1 495.5,396.4 499.0,386.7 501.3,385.5 503.7,395.8 505.8,399.5 507.9,390.3 512.0,385.1 516.1,379.9 518.2,379.3 521.3,385.1 523.4,400.6 526.4,403.3 528.5,403.3 531.6,395.4 533.3,403.3 535.7,390.9 540.9,387.2 543.0,395.8 545.6,400.6 548.1,394.4 550.2,394.4 553.9,403.3 558.4,405.3 560.9,400.6 563.6,399.5 565.3,403.3 568.8,393.4 571.9,395.8 575.0,399.1 578.1,394.4 583.2,401.6 586.3,407.8 589.4,408.8 593.5,413.0 599.7,407.8 603.9,415.0 608.0,417.1 611.1,401.6 613.2,399.5 616.7,399.5 618.7,404.1 622.0,404.1 624.5,405.3 627.6,410.3 630.7,410.9 632.8,404.7 634.8,406.2 637.9,396.4 640.0,395.4 642.3,388.2 645.2,387.2 647.9,378.9 650.6,373.3"/>
<ellipse cx="149.2" cy="417.7" rx="23.1" ry="14.7" fill="none" stroke="#0000f0" stroke-width="2"/>
<ellipse cx="609.6" cy="416.1" rx="16.5" ry="12.2" fill="none" stroke="#0000f0" stroke-width="2"/>
<g fill="none" stroke="#ff0000" stroke-width="2.1" stroke-linecap="round" stroke-linejoin="round">
<polyline points="72.5,72.5 147,317"/>
<polyline points="150,317.5 285.5,74.3 315.2,149"/>
<polyline points="395.2,85.5 684.5,102.3"/>
</g>
<polygon fill="#ff0000" points="146.2,315.4 154.1,323.0 150.2,323.0 150.2,330.4 142.2,330.4 142.2,323.0 138.29999999999998,323.0"/>
<polygon fill="#ff0000" points="315.0,152.9 322.9,160.5 319.0,160.5 319.0,167.9 311.0,167.9 311.0,160.5 307.1,160.5"/>
<polygon fill="#ff0000" points="605.5,144.6 613.4,152.2 609.5,152.2 609.5,159.6 601.5,159.6 601.5,152.2 597.6,152.2"/>
<polygon fill="#0000ff" points="210.9,201.3 218.8,208.9 214.9,208.9 214.9,216.3 206.9,216.3 206.9,208.9 203.0,208.9"/>
<g>
<polygon points="267,212 607,212 607,324 267,324" fill="#c8c8c8"/>
<polygon points="606.3,217 649.3,131.5 600.4,212" fill="#c8c8c8"/>
<polygon points="265.5,210.5 598.4,210.5 647.5,130 604.5,215.5 604.5,321.5 265.5,321.5" fill="#fff" stroke="#7a7a7a" stroke-width="1" stroke-linejoin="miter"/>
</g>
<g font-weight="bold" font-size="15.6px" fill="#0000ff" xml:space="preserve" transform="translate(268.5,0) scale(1.0,1)">
<text x="0" y="230.0" textLength="316.5" lengthAdjust="spacing">As Gold heads for all time highs, the HUI</text>
<text x="0" y="250.9" textLength="308.8" lengthAdjust="spacing">index should reach 600+ in no time.  Do</text>
<text x="0" y="271.8" textLength="289.2" lengthAdjust="spacing">not forget, the miners still carry 2008</text>
<text x="0" y="292.7" textLength="322.3" lengthAdjust="spacing">valuations!  The HUI should easily double</text>
<text x="0" y="313.6" textLength="79.2" lengthAdjust="spacing">from here.</text>
</g>
<g fill="#fff">
<text x="16.3" y="15" font-size="14.3px" font-weight="bold" textLength="28.4" lengthAdjust="spacingAndGlyphs">$HUI</text>
<text x="48.3" y="14.3" font-size="11px" textLength="126" lengthAdjust="spacingAndGlyphs">(Gold Bugs Index - AMEX)</text>
<text x="179.3" y="14.3" font-size="9px" textLength="23.4" lengthAdjust="spacing">INDX</text>
<text x="16.3" y="27" font-size="10.5px" textLength="60" lengthAdjust="spacing">14-Sep-2012</text>
<text x="351.6" y="27" font-size="10.5px" font-weight="bold" textLength="28" lengthAdjust="spacingAndGlyphs">Open</text>
<text x="383.7" y="27" font-size="10.5px" textLength="33" lengthAdjust="spacingAndGlyphs">482.04</text>
<text x="422.4" y="27" font-size="10.5px" font-weight="bold" textLength="23.2" lengthAdjust="spacingAndGlyphs">High</text>
<text x="449.8" y="27" font-size="10.5px" textLength="31.5" lengthAdjust="spacingAndGlyphs">518.81</text>
<text x="488.3" y="27" font-size="10.5px" font-weight="bold" textLength="23" lengthAdjust="spacingAndGlyphs">Low</text>
<text x="516" y="27" font-size="10.5px" textLength="33" lengthAdjust="spacingAndGlyphs">467.34</text>
<text x="555" y="27" font-size="10.5px" font-weight="bold" textLength="30.6" lengthAdjust="spacingAndGlyphs">Close</text>
<text x="589.6" y="27" font-size="10.5px" textLength="32.6" lengthAdjust="spacingAndGlyphs">517.46</text>
<text x="628.8" y="27" font-size="10.5px" font-weight="bold" textLength="21.4" lengthAdjust="spacingAndGlyphs">Chg</text>
<text x="653.7" y="27" font-size="10.5px" textLength="32.6" lengthAdjust="spacingAndGlyphs">+34.05</text>
<text x="689.2" y="27" font-size="10.5px" textLength="43.6" lengthAdjust="spacingAndGlyphs">(+7.04%)</text>
</g>
<polygon points="735,26 738.5,22 742,26" fill="#2e6b2e"/>
<text x="652.8" y="14" font-size="10.8px" fill="#a9b9cb" textLength="89.2" lengthAdjust="spacingAndGlyphs">© StockCharts.com</text>
<text x="18.8" y="40.3" font-size="10.3px" fill="#000" font-family="'DejaVu Sans', Verdana, sans-serif" textLength="82.8" lengthAdjust="spacing">$HUI (Weekly)</text>
<text x="44.0" y="340" font-size="11px" font-weight="bold" fill="#fff" text-anchor="middle">08</text>
<text x="77.10000000000001" y="340" font-size="10px" fill="#fff" text-anchor="middle" letter-spacing="0.4">Apr</text>
<text x="109.3" y="340" font-size="10px" fill="#fff" text-anchor="middle" letter-spacing="0.4">Jul</text>
<text x="141.29999999999998" y="340" font-size="10px" fill="#fff" text-anchor="middle" letter-spacing="0.4">Oct</text>
<text x="173.0" y="340" font-size="11px" font-weight="bold" fill="#fff" text-anchor="middle">09</text>
<text x="206.0" y="340" font-size="10px" fill="#fff" text-anchor="middle" letter-spacing="0.4">Apr</text>
<text x="238.0" y="340" font-size="10px" fill="#fff" text-anchor="middle" letter-spacing="0.4">Jul</text>
<text x="270.2" y="340" font-size="10px" fill="#fff" text-anchor="middle" letter-spacing="0.4">Oct</text>
<text x="302.0" y="340" font-size="11px" font-weight="bold" fill="#fff" text-anchor="middle">10</text>
<text x="334.9" y="340" font-size="10px" fill="#fff" text-anchor="middle" letter-spacing="0.4">Apr</text>
<text x="367.2" y="340" font-size="10px" fill="#fff" text-anchor="middle" letter-spacing="0.4">Jul</text>
<text x="399.5" y="340" font-size="10px" fill="#fff" text-anchor="middle" letter-spacing="0.4">Oct</text>
<text x="430.9" y="340" font-size="11px" font-weight="bold" fill="#fff" text-anchor="middle">11</text>
<text x="463.8" y="340" font-size="10px" fill="#fff" text-anchor="middle" letter-spacing="0.4">Apr</text>
<text x="496.2" y="340" font-size="10px" fill="#fff" text-anchor="middle" letter-spacing="0.4">Jul</text>
<text x="528.2" y="340" font-size="10px" fill="#fff" text-anchor="middle" letter-spacing="0.4">Oct</text>
<text x="560.1" y="340" font-size="11px" font-weight="bold" fill="#fff" text-anchor="middle">12</text>
<text x="593.1" y="340" font-size="10px" fill="#fff" text-anchor="middle" letter-spacing="0.4">Apr</text>
<text x="625.1" y="340" font-size="10px" fill="#fff" text-anchor="middle" letter-spacing="0.4">Jul</text>
<text x="657.2" y="340" font-size="10px" fill="#fff" text-anchor="middle" letter-spacing="0.4">Oct</text>
<text x="692.0" y="340" font-size="11px" font-weight="bold" fill="#fff" text-anchor="middle">13</text>
<text x="722.2" y="340" font-size="10px" fill="#fff" text-anchor="middle" letter-spacing="0.4">Apr</text>
<text x="44.0" y="460" font-size="11px" font-weight="bold" fill="#fff" text-anchor="middle">08</text>
<text x="77.10000000000001" y="460" font-size="10px" fill="#fff" text-anchor="middle" letter-spacing="0.4">Apr</text>
<text x="109.3" y="460" font-size="10px" fill="#fff" text-anchor="middle" letter-spacing="0.4">Jul</text>
<text x="141.29999999999998" y="460" font-size="10px" fill="#fff" text-anchor="middle" letter-spacing="0.4">Oct</text>
<text x="173.0" y="460" font-size="11px" font-weight="bold" fill="#fff" text-anchor="middle">09</text>
<text x="206.0" y="460" font-size="10px" fill="#fff" text-anchor="middle" letter-spacing="0.4">Apr</text>
<text x="238.0" y="460" font-size="10px" fill="#fff" text-anchor="middle" letter-spacing="0.4">Jul</text>
<text x="270.2" y="460" font-size="10px" fill="#fff" text-anchor="middle" letter-spacing="0.4">Oct</text>
<text x="302.0" y="460" font-size="11px" font-weight="bold" fill="#fff" text-anchor="middle">10</text>
<text x="334.9" y="460" font-size="10px" fill="#fff" text-anchor="middle" letter-spacing="0.4">Apr</text>
<text x="367.2" y="460" font-size="10px" fill="#fff" text-anchor="middle" letter-spacing="0.4">Jul</text>
<text x="399.5" y="460" font-size="10px" fill="#fff" text-anchor="middle" letter-spacing="0.4">Oct</text>
<text x="430.9" y="460" font-size="11px" font-weight="bold" fill="#fff" text-anchor="middle">11</text>
<text x="463.8" y="460" font-size="10px" fill="#fff" text-anchor="middle" letter-spacing="0.4">Apr</text>
<text x="496.2" y="460" font-size="10px" fill="#fff" text-anchor="middle" letter-spacing="0.4">Jul</text>
<text x="528.2" y="460" font-size="10px" fill="#fff" text-anchor="middle" letter-spacing="0.4">Oct</text>
<text x="560.1" y="460" font-size="11px" font-weight="bold" fill="#fff" text-anchor="middle">12</text>
<text x="593.1" y="460" font-size="10px" fill="#fff" text-anchor="middle" letter-spacing="0.4">Apr</text>
<text x="625.1" y="460" font-size="10px" fill="#fff" text-anchor="middle" letter-spacing="0.4">Jul</text>
<text x="657.2" y="460" font-size="10px" fill="#fff" text-anchor="middle" letter-spacing="0.4">Oct</text>
<text x="692.0" y="460" font-size="11px" font-weight="bold" fill="#fff" text-anchor="middle">13</text>
<text x="722.2" y="460" font-size="10px" fill="#fff" text-anchor="middle" letter-spacing="0.4">Apr</text>
<text x="745.6" y="51.9" font-size="10px" fill="#fff" textLength="17.3" lengthAdjust="spacing">600</text>
<text x="745.6" y="68.9" font-size="10px" fill="#fff" textLength="17.3" lengthAdjust="spacing">550</text>
<text x="745.6" y="87.9" font-size="10px" fill="#fff" textLength="17.3" lengthAdjust="spacing">500</text>
<text x="745.6" y="107.9" font-size="10px" fill="#fff" textLength="17.3" lengthAdjust="spacing">450</text>
<text x="745.6" y="131.9" font-size="10px" fill="#fff" textLength="17.3" lengthAdjust="spacing">400</text>
<text x="745.6" y="157.9" font-size="10px" fill="#fff" textLength="17.3" lengthAdjust="spacing">350</text>
<text x="745.6" y="187.9" font-size="10px" fill="#fff" textLength="17.3" lengthAdjust="spacing">300</text>
<text x="745.6" y="223.9" font-size="10px" fill="#fff" textLength="17.3" lengthAdjust="spacing">250</text>
<text x="745.6" y="267.9" font-size="10px" fill="#fff" textLength="17.3" lengthAdjust="spacing">200</text>
<text x="745.6" y="324.9" font-size="10px" fill="#fff" textLength="17.3" lengthAdjust="spacing">150</text>
<text x="745.6" y="362.9" font-size="10px" fill="#fff" textLength="11.6" lengthAdjust="spacing">90</text>
<text x="745.6" y="380.9" font-size="10px" fill="#fff" textLength="11.6" lengthAdjust="spacing">70</text>
<text x="745.6" y="398.9" font-size="10px" fill="#fff" textLength="11.6" lengthAdjust="spacing">50</text>
<text x="745.6" y="416.9" font-size="10px" fill="#fff" textLength="11.6" lengthAdjust="spacing">30</text>
<text x="745.6" y="434.9" font-size="10px" fill="#fff" textLength="11.6" lengthAdjust="spacing">10</text>
<polygon points="740.3,77.3 744,71.5 779.5,71.5 779.5,82.5 744,82.5" fill="#fff" stroke="#000088" stroke-width="1"/>
<rect x="779" y="70" width="1" height="14" fill="#000"/>
<text x="744.7" y="81" font-size="11px" font-weight="bold" fill="#000" textLength="32.8" lengthAdjust="spacingAndGlyphs">517.46</text>
<polygon points="740.2,373.5 744,368.5 773.5,368.5 773.5,378.5 744,378.5" fill="#fff" stroke="#000088" stroke-width="1"/>
<text x="745.2" y="376.7" font-size="9px" fill="#000" font-family="'DejaVu Sans', Verdana, sans-serif" textLength="26.2" lengthAdjust="spacingAndGlyphs">73.85</text>
<polyline fill="none" stroke="#ff0000" stroke-width="2.1" stroke-linecap="round" stroke-linejoin="round" points="650.6,76.9 660.2,99.5 682.7,40.4 689.7,57.6 723.5,-2"/>
</svg>
</body></html>
